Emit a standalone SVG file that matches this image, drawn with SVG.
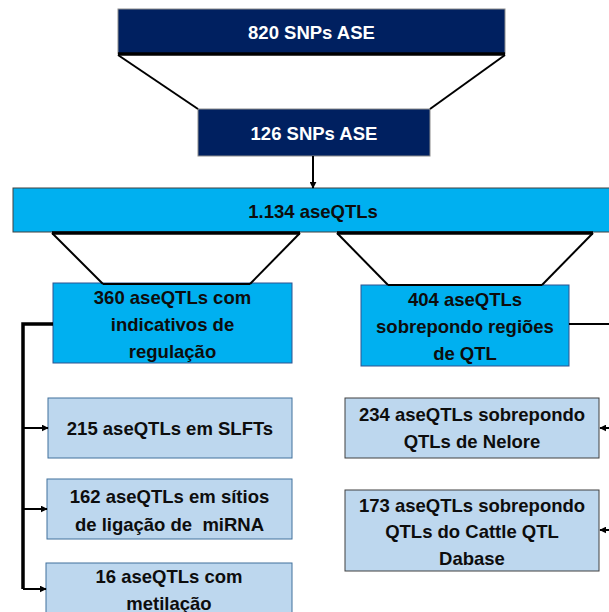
<svg xmlns="http://www.w3.org/2000/svg" width="609" height="612" viewBox="0 0 609 612">
<defs>
<style>
.t{font-family:"Liberation Sans",Arial,sans-serif;font-weight:700;font-size:18.5px;text-anchor:middle;dominant-baseline:central;fill:#0d0d0d}
.w{fill:#ffffff}
.navy{fill:#002060;stroke:#8c8c8c;stroke-width:1}
.cyan{fill:#00b0f0;stroke:#404040;stroke-width:1}
.cyan2{fill:#00b0f0;stroke:#2f528f;stroke-width:1}
.pale{fill:#bdd7ee;stroke:#41719c;stroke-width:1}
.pale2{fill:#bdd7ee;stroke:#404040;stroke-width:1}
.ln{stroke:#000;stroke-width:2;fill:none}
.thick{stroke:#000;stroke-width:3.5;fill:none}
</style>
<marker id="ah" viewBox="0 0 10 10" refX="9" refY="5" markerWidth="7" markerHeight="7" markerUnits="userSpaceOnUse" orient="auto">
<path d="M0,0 L10,5 L0,10 z" fill="#000"/>
</marker>
</defs>
<g id="n1">
<rect class="navy" x="118" y="9" width="387" height="45"/>
<text class="t w" x="311.5" y="32">820 SNPs ASE</text>
</g>
<g id="n2">
<rect class="navy" x="198" y="109" width="232" height="47"/>
<text class="t w" x="314" y="133">126 SNPs ASE</text>
</g>
<g id="n3">
<rect class="cyan" x="13" y="188" width="600" height="44"/>
<text class="t" x="313" y="211">1.134 aseQTLs</text>
</g>
<g id="n4">
<rect class="cyan2" x="53" y="283" width="239" height="80"/>
<text class="t" x="172.5" y="297">360 aseQTLs com</text>
<text class="t" x="172.5" y="324">indicativos de</text>
<text class="t" x="172.5" y="351">regulação</text>
</g>
<g id="n5">
<rect class="cyan2" x="361" y="285" width="208" height="81"/>
<text class="t" x="465" y="299">404 aseQTLs</text>
<text class="t" x="465" y="326">sobrepondo regiões</text>
<text class="t" x="465" y="353">de QTL</text>
</g>
<g id="n6">
<rect class="pale" x="48" y="398" width="244" height="60"/>
<text class="t" x="170" y="428">215 aseQTLs em SLFTs</text>
</g>
<g id="n7">
<rect class="pale" x="47" y="479" width="245" height="60"/>
<text class="t" x="169.5" y="496">162 aseQTLs em sítios</text>
<text class="t" x="169.5" y="524" xml:space="preserve">de ligação de  miRNA</text>
</g>
<g id="n8">
<rect class="pale" x="46" y="563" width="246" height="60"/>
<text class="t" x="169" y="576">16 aseQTLs com</text>
<text class="t" x="169" y="603">metilação</text>
</g>
<g id="n9">
<rect class="pale2" x="345" y="398" width="254" height="60"/>
<text class="t" x="472" y="414">234 aseQTLs sobrepondo</text>
<text class="t" x="472" y="441">QTLs de Nelore</text>
</g>
<g id="n10">
<rect class="pale2" x="345" y="490" width="254" height="81"/>
<text class="t" x="472" y="505">173 aseQTLs sobrepondo</text>
<text class="t" x="472" y="531">QTLs do Cattle QTL</text>
<text class="t" x="472" y="558">Dabase</text>
</g>
<g id="connectors">
<line class="thick" x1="118" y1="54" x2="505" y2="54"/>
<line class="ln" x1="118" y1="55" x2="198" y2="109"/>
<line class="ln" x1="505" y1="55" x2="430" y2="109"/>
<line class="ln" x1="313" y1="156" x2="313" y2="188" marker-end="url(#ah)"/>
<line class="thick" x1="52" y1="233" x2="300" y2="233"/>
<line class="ln" x1="52" y1="233" x2="103" y2="284"/>
<line class="ln" x1="300" y1="233" x2="250" y2="284"/>
<line class="ln" x1="103" y1="284" x2="250" y2="284"/>
<line class="thick" x1="337" y1="233" x2="593" y2="233"/>
<line class="ln" x1="337" y1="233" x2="388" y2="285"/>
<line class="ln" x1="593" y1="233" x2="542" y2="285"/>
<line class="ln" x1="388" y1="285" x2="542" y2="285"/>
<polyline class="thick" points="53,324 23,324 23,589"/>
<line class="ln" x1="23" y1="428" x2="48" y2="428" marker-end="url(#ah)"/>
<line class="ln" x1="23" y1="509" x2="47" y2="509" marker-end="url(#ah)"/>
<line class="ln" x1="23" y1="589" x2="46" y2="589" marker-end="url(#ah)"/>
<line class="ln" x1="569" y1="324" x2="612" y2="324"/>
<line class="ln" x1="612" y1="428" x2="600" y2="428" marker-end="url(#ah)"/>
<line class="ln" x1="612" y1="530" x2="600" y2="530" marker-end="url(#ah)"/>
</g>
</svg>
